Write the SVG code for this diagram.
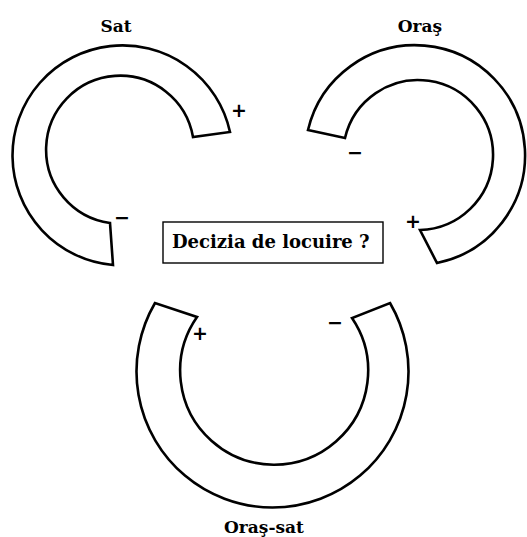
<svg xmlns="http://www.w3.org/2000/svg" width="527" height="537" viewBox="0 0 527 537">
<style>
.ring{fill:#fff;stroke:#000;stroke-width:2.6;stroke-linejoin:miter}
.lbl{font-family:"DejaVu Serif","Liberation Serif",serif;font-weight:bold;font-size:17px;fill:#000;text-anchor:middle}
.sign{font-family:"DejaVu Sans","Liberation Sans",sans-serif;font-weight:bold;font-size:19px;fill:#000;text-anchor:middle}
.box{fill:#fff;stroke:#000;stroke-width:1.4}
.btxt{font-family:"DejaVu Serif","Liberation Serif",serif;font-weight:bold;font-size:18px;fill:#000}
</style>
<rect width="527" height="537" fill="#fff"/>
<g id="sat">
<path class="ring" d="M230,132 A110,110 0 1 0 113,265 L110,223 A74,74 0 1 1 193,137 Z"/>
<text class="lbl" x="116" y="32">Sat</text>
<text class="sign" x="239" y="117">+</text>
<text class="sign" x="122" y="224">−</text>
</g>
<g id="oras">
<path class="ring" d="M308,130 A110,110 0 1 1 437,263 L420,230 A75,75 0 1 0 345,138 Z"/>
<text class="lbl" x="420" y="32">Oraş</text>
<text class="sign" x="355" y="159">−</text>
<text class="sign" x="413" y="228">+</text>
</g>
<g id="oras-sat">
<path class="ring" d="M155,303 A136,136 0 1 0 390,303 L352,318 A94,94 0 1 1 197,317 Z"/>
<text class="lbl" x="264" y="533">Oraş-sat</text>
<text class="sign" x="200" y="340">+</text>
<text class="sign" x="335" y="329">−</text>
</g>
<g id="decision">
<rect class="box" x="163" y="222" width="220" height="41"/>
<text class="btxt" x="172" y="248">Decizia de locuire ?</text>
</g>
<g id="connectors"/>
</svg>
